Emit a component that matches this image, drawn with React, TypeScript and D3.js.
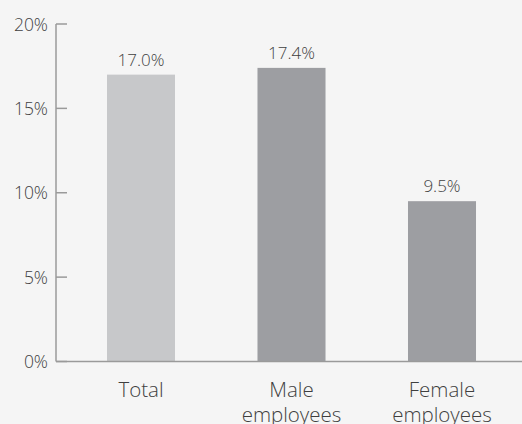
import React from "react";
import * as d3 from "d3";

const categories: string[][] = [["Total"], ["Male", "employees"], ["Female", "employees"]];
const values: number[] = [17.0, 17.4, 9.5];
const barColors: string[] = ["#c7c8ca", "#9d9ea2", "#9d9ea2"];
const yTicks: number[] = [0, 5, 10, 15, 20];

const W = 522;
const H = 424;
const FONT = "'Open Sans', 'Segoe UI', sans-serif";

export default function App() {
  const y = d3.scaleLinear().domain([0, 20]).range([361.5, 24]);
  const keys = categories.map((c) => c.join(" "));
  const x = d3
    .scaleBand<string>()
    .domain(keys)
    .range([65.75, 517.25])
    .paddingInner(0.548)
    .paddingOuter(0.274);
  const axisX = 56;

  return (
    <svg
      width={W}
      height={H}
      style={{ position: "absolute", left: 0, top: 0, display: "block" }}
    >
      <rect x={0} y={0} width={W} height={H} fill="#f5f5f5" />
      {values.map((v, i) => {
        const k = keys[i];
        const x0 = x(k)!;
        return (
          <g key={k}>
            <rect x={x0} y={y(v)} width={x.bandwidth()} height={y(0) - y(v)} fill={barColors[i]} />
            <text
              x={x0 + x.bandwidth() / 2}
              y={y(v) - 9}
              textAnchor="middle"
              fontFamily={FONT}
              fontWeight={300}
              fontSize={17}
              fill="#3f3f3f"
            >
              {v.toFixed(1) + "%"}
            </text>
            {categories[i].map((line, j) => (
              <text
                key={j}
                x={x0 + x.bandwidth() / 2}
                y={397 + j * 24.5}
                textAnchor="middle"
                fontFamily={FONT}
                fontWeight={300}
                fontSize={20.5}
                fill="#3f3f3f"
              >
                {line}
              </text>
            ))}
          </g>
        );
      })}
      <line x1={axisX} x2={axisX} y1={y(20)} y2={y(0)} stroke="#9a9a9a" strokeWidth={1.5} />
      <line x1={axisX} x2={W} y1={y(0)} y2={y(0)} stroke="#9a9a9a" strokeWidth={1.5} />
      {yTicks.map((t) => (
        <g key={t}>
          <line x1={axisX} x2={axisX + 11} y1={y(t)} y2={y(t)} stroke="#9a9a9a" strokeWidth={1.5} />
          <text
            x={48}
            y={y(t) + 6.5}
            textAnchor="end"
            fontFamily={FONT}
            fontWeight={300}
            fontSize={17.5}
            fill="#3f3f3f"
          >
            {t + "%"}
          </text>
        </g>
      ))}
    </svg>
  );
}
